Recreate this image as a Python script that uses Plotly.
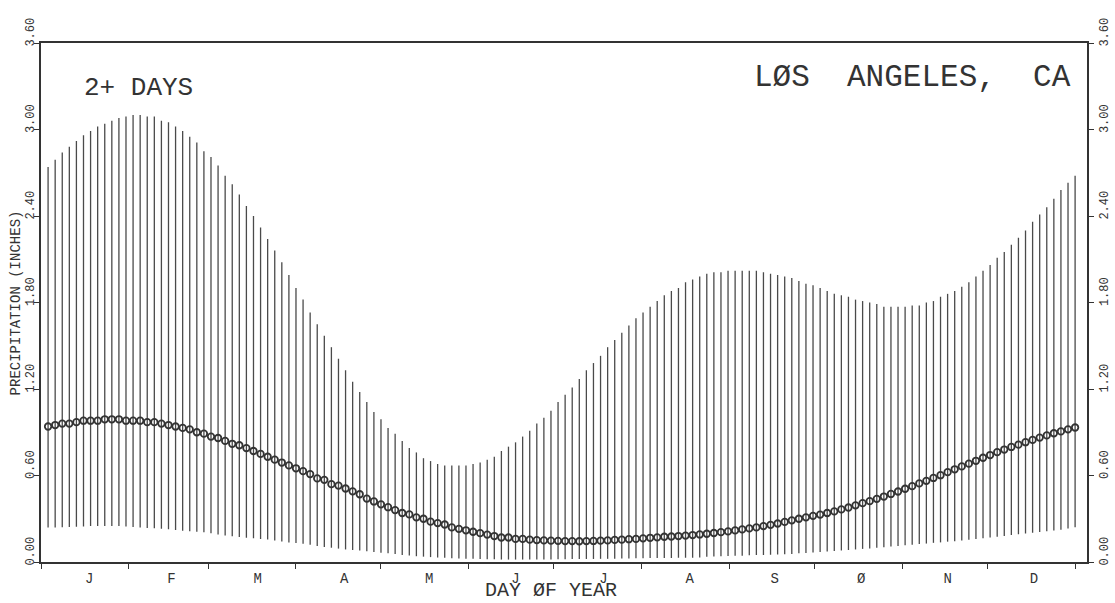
import plotly.graph_objects as go

# day of year at the centre of each 2.5-day window
days = [
    2.5, 5, 7.5, 10, 12.5, 15, 17.5, 20, 22.5, 25,
    27.5, 30, 32.5, 35, 37.5, 40, 42.5, 45, 47.5, 50,
    52.5, 55, 57.5, 60, 62.5, 65, 67.5, 70, 72.5, 75,
    77.5, 80, 82.5, 85, 87.5, 90, 92.5, 95, 97.5, 100,
    102.5, 105, 107.5, 110, 112.5, 115, 117.5, 120, 122.5, 125,
    127.5, 130, 132.5, 135, 137.5, 140, 142.5, 145, 147.5, 150,
    152.5, 155, 157.5, 160, 162.5, 165, 167.5, 170, 172.5, 175,
    177.5, 180, 182.5, 185, 187.5, 190, 192.5, 195, 197.5, 200,
    202.5, 205, 207.5, 210, 212.5, 215, 217.5, 220, 222.5, 225,
    227.5, 230, 232.5, 235, 237.5, 240, 242.5, 245, 247.5, 250,
    252.5, 255, 257.5, 260, 262.5, 265, 267.5, 270, 272.5, 275,
    277.5, 280, 282.5, 285, 287.5, 290, 292.5, 295, 297.5, 300,
    302.5, 305, 307.5, 310, 312.5, 315, 317.5, 320, 322.5, 325,
    327.5, 330, 332.5, 335, 337.5, 340, 342.5, 345, 347.5, 350,
    352.5, 355, 357.5, 360, 362.5, 365,
]

# top of each vertical line (inches)
upper = [
    2.74, 2.79, 2.84, 2.88, 2.92, 2.96, 2.99, 3.02, 3.04, 3.06,
    3.08, 3.09, 3.10, 3.10, 3.09, 3.09, 3.06, 3.05, 3.02, 2.99,
    2.95, 2.91, 2.85, 2.81, 2.75, 2.68, 2.62, 2.55, 2.47, 2.40,
    2.32, 2.24, 2.16, 2.08, 1.99, 1.90, 1.82, 1.73, 1.65, 1.57,
    1.49, 1.41, 1.33, 1.25, 1.18, 1.11, 1.04, 0.99, 0.93, 0.89,
    0.84, 0.79, 0.76, 0.72, 0.70, 0.68, 0.67, 0.67, 0.67, 0.67,
    0.68, 0.69, 0.71, 0.73, 0.77, 0.80, 0.83, 0.87, 0.91, 0.96,
    1.00, 1.05, 1.11, 1.16, 1.21, 1.27, 1.33, 1.38, 1.43, 1.49,
    1.54, 1.59, 1.64, 1.69, 1.73, 1.77, 1.81, 1.85, 1.88, 1.90,
    1.94, 1.96, 1.98, 2.00, 2.01, 2.01, 2.02, 2.02, 2.02, 2.02,
    2.02, 2.01, 2.00, 1.99, 1.98, 1.97, 1.95, 1.93, 1.92, 1.90,
    1.88, 1.86, 1.85, 1.84, 1.82, 1.81, 1.80, 1.79, 1.77, 1.77,
    1.77, 1.77, 1.78, 1.78, 1.80, 1.81, 1.84, 1.86, 1.88, 1.91,
    1.94, 1.98, 2.02, 2.06, 2.11, 2.15, 2.20, 2.25, 2.30, 2.36,
    2.41, 2.46, 2.52, 2.58, 2.63, 2.68,
]

# circles (median)
median = [
    0.94, 0.95, 0.96, 0.96, 0.97, 0.98, 0.98, 0.98, 0.99, 0.99,
    0.99, 0.98, 0.98, 0.98, 0.97, 0.97, 0.96, 0.95, 0.94, 0.93,
    0.92, 0.90, 0.89, 0.87, 0.86, 0.84, 0.82, 0.81, 0.79, 0.77,
    0.75, 0.73, 0.71, 0.69, 0.67, 0.65, 0.63, 0.61, 0.58, 0.57,
    0.54, 0.53, 0.51, 0.49, 0.47, 0.44, 0.42, 0.40, 0.38, 0.36,
    0.34, 0.33, 0.31, 0.30, 0.28, 0.27, 0.26, 0.24, 0.23, 0.22,
    0.21, 0.20, 0.19, 0.18, 0.17, 0.17, 0.16, 0.16, 0.155, 0.152,
    0.150, 0.148, 0.147, 0.145, 0.145, 0.144, 0.145, 0.146, 0.148, 0.150,
    0.153, 0.155, 0.158, 0.160, 0.164, 0.168, 0.171, 0.175, 0.177, 0.180,
    0.183, 0.187, 0.191, 0.196, 0.201, 0.207, 0.212, 0.219, 0.226, 0.233,
    0.240, 0.249, 0.258, 0.267, 0.278, 0.289, 0.300, 0.310, 0.320, 0.329,
    0.340, 0.351, 0.365, 0.378, 0.393, 0.408, 0.422, 0.438, 0.454, 0.472,
    0.489, 0.508, 0.526, 0.545, 0.563, 0.583, 0.602, 0.623, 0.643, 0.663,
    0.682, 0.702, 0.723, 0.742, 0.762, 0.780, 0.798, 0.814, 0.831, 0.847,
    0.863, 0.878, 0.893, 0.906, 0.920, 0.933,
]

# bottom of each vertical line
lower = [
    0.240, 0.240, 0.241, 0.243, 0.245, 0.246, 0.249, 0.250, 0.250, 0.249,
    0.249, 0.246, 0.243, 0.239, 0.236, 0.234, 0.230, 0.227, 0.222, 0.217,
    0.214, 0.210, 0.206, 0.199, 0.191, 0.184, 0.179, 0.174, 0.168, 0.164,
    0.160, 0.156, 0.149, 0.143, 0.136, 0.131, 0.126, 0.119, 0.111, 0.104,
    0.099, 0.093, 0.087, 0.083, 0.079, 0.075, 0.070, 0.065, 0.060, 0.055,
    0.048, 0.045, 0.040, 0.037, 0.034, 0.031, 0.029, 0.026, 0.025, 0.023,
    0.022, 0.021, 0.019, 0.019, 0.017, 0.017, 0.017, 0.017, 0.017, 0.017,
    0.018, 0.018, 0.019, 0.019, 0.020, 0.020, 0.021, 0.021, 0.022, 0.022,
    0.023, 0.024, 0.024, 0.026, 0.026, 0.027, 0.027, 0.028, 0.028, 0.029,
    0.029, 0.030, 0.032, 0.036, 0.038, 0.040, 0.041, 0.043, 0.044, 0.046,
    0.048, 0.049, 0.051, 0.052, 0.054, 0.056, 0.060, 0.062, 0.066, 0.069,
    0.073, 0.076, 0.080, 0.083, 0.087, 0.091, 0.094, 0.099, 0.103, 0.108,
    0.111, 0.116, 0.120, 0.124, 0.128, 0.133, 0.136, 0.141, 0.144, 0.149,
    0.154, 0.160, 0.165, 0.170, 0.176, 0.181, 0.187, 0.192, 0.198, 0.203,
    0.208, 0.213, 0.218, 0.223, 0.232, 0.241,
]

month_starts = [0, 31, 59, 90, 120, 151, 181, 212, 243, 273, 304, 334, 365]
month_label_days = [17, 46, 76.5, 107, 137, 167.5, 198.5, 229, 259, 289.5, 320, 350.5]
month_labels = ["J", "F", "M", "A", "M", "J", "J", "A", "S", "Ø", "N", "D"]
y_ticks = [0.0, 0.6, 1.2, 1.8, 2.4, 3.0, 3.6]
y_tick_labels = ["0.00", "0.60", "1.20", "1.80", "2.40", "3.00", "3.60"]

ink = "#333333"
font = "Liberation Mono"

fig = go.Figure()

# vertical range lines as asymmetric error bars around the median circles
fig.add_trace(go.Scatter(
    x=days, y=median, mode="markers",
    marker=dict(symbol="circle-open", size=6.5, color=ink, line=dict(width=1.8, color=ink)),
    error_y=dict(type="data", symmetric=False,
                 array=[u - m for u, m in zip(upper, median)],
                 arrayminus=[m - l for m, l in zip(median, lower)],
                 width=0, thickness=1.3, color="#4a4a4a"),
    showlegend=False, hoverinfo="skip",
))
# same points, invisible, so the right-hand axis is drawn
fig.add_trace(go.Scatter(
    x=days, y=median, yaxis="y2", mode="markers",
    marker=dict(size=1, opacity=0), showlegend=False, hoverinfo="skip",
))

yaxis_common = dict(
    range=[0, 3.6], tickmode="array", tickvals=y_ticks, ticktext=y_tick_labels,
    tickangle=-90, ticklabelshift=-9, ticks="outside", ticklen=5, tickwidth=1.3,
    tickcolor=ink, tickfont=dict(size=12, color=ink), automargin=False,
    showline=True, linecolor=ink, linewidth=1.5, showgrid=False, zeroline=False,
)

fig.update_layout(
    width=1115, height=603,
    margin=dict(l=41, r=28, t=43, b=41),
    paper_bgcolor="white", plot_bgcolor="white",
    font=dict(family=font, color=ink),
    xaxis=dict(
        range=[0, 369.2], tickmode="array", tickvals=month_label_days, ticktext=month_labels,
        ticks="", ticklabelstandoff=2, tickfont=dict(size=14, color=ink), automargin=False,
        minor=dict(tickmode="array", tickvals=month_starts, ticks="outside",
                   ticklen=5, tickwidth=1.3, tickcolor=ink, showgrid=False),
        showline=True, linecolor=ink, linewidth=1.5, mirror=True,
        showgrid=False, zeroline=False,
    ),
    yaxis=dict(side="left", ticklabelstandoff=-5, **yaxis_common),
    yaxis2=dict(side="right", overlaying="y", anchor="x", ticklabelstandoff=0, **yaxis_common),
    annotations=[
        dict(text="2+ DAYS", xref="paper", yref="paper", x=0.039, y=0.914,
             xanchor="left", yanchor="middle", showarrow=False,
             font=dict(size=26, color=ink)),
        dict(text="LØS  ANGELES,  CA", xref="paper", yref="paper", x=0.9866, y=0.9335,
             xanchor="right", yanchor="middle", showarrow=False,
             font=dict(size=31, color=ink)),
        dict(text="DAY ØF YEAR", xref="paper", yref="paper", x=0.488, y=0, yshift=-28,
             xanchor="center", yanchor="middle", showarrow=False,
             font=dict(size=20, color=ink)),
        dict(text="PRECIPITATION (INCHES)", xref="paper", yref="paper", x=-0.024, y=0.5,
             xanchor="center", yanchor="middle", textangle=-90, showarrow=False,
             font=dict(size=14, color=ink)),
    ],
)

# drop the browser's default body margin so the figure fills the window exactly
fig.write_html("out.html", config={"displayModeBar": False},
               post_script="document.body.style.margin = '0';")
